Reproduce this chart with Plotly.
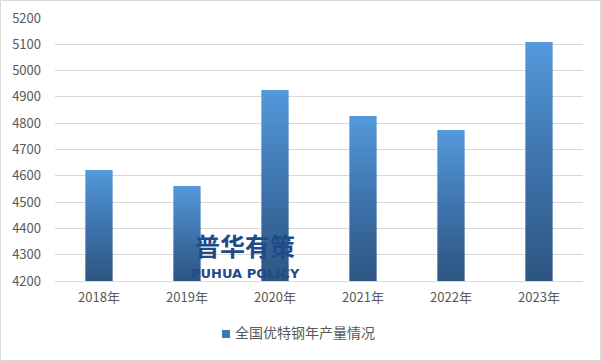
import plotly.graph_objects as go

categories = ["2018年", "2019年", "2020年", "2021年", "2022年", "2023年"]
values = [4622, 4561, 4926, 4827, 4774, 5109]
series_name = "全国优特钢年产量情况"
y_ticks = list(range(4200, 5201, 100))

BASE = 4200
HALF_W = 0.155
grad = dict(type="vertical", colorscale=[[0, "#2d5580"], [0.5, "#3e74ad"], [1, "#5499db"]])

W, H = 601, 361
ML, MR, MT, MB = 55, 18, 18, 80
pw = W - ML - MR
ph = H - MT - MB

fig = go.Figure()
for i, v in enumerate(values):
    fig.add_trace(go.Scatter(
        x=[i - HALF_W, i + HALF_W, i + HALF_W, i - HALF_W, i - HALF_W],
        y=[BASE, BASE, v, v, BASE],
        mode="lines", line=dict(width=0), fill="toself",
        fillgradient=grad, showlegend=False, hoverinfo="skip",
    ))

font_family = "Noto Sans CJK SC, Microsoft YaHei, sans-serif"

def px_x(p):
    return (p - ML) / pw

def px_y(p):
    return (H - MB - p) / ph

fig.update_layout(
    width=W, height=H,
    margin=dict(l=ML, r=MR, t=MT, b=MB, autoexpand=False),
    paper_bgcolor="white", plot_bgcolor="white",
    font=dict(family=font_family, size=13, color="#595959"),
    xaxis=dict(range=[-0.5, len(categories) - 0.5], tickmode="array",
               tickvals=list(range(len(categories))), ticktext=categories,
               showgrid=False, zeroline=False, showline=True,
               linecolor="#d9d9d9", linewidth=1, ticks="", fixedrange=True,
               ticklabelstandoff=4,
               tickfont=dict(size=13, color="#595959")),
    yaxis=dict(range=[4200, 5200], tickvals=y_ticks, showgrid=True,
               gridcolor="#d9d9d9", gridwidth=1, zeroline=False,
               showline=False, ticks="", ticklabelstandoff=13,
               tickfont=dict(size=13, color="#595959")),
    showlegend=False,
    annotations=[
        dict(text="<b>普华有策</b>", x=px_x(245), y=px_y(265), xref="paper",
             yref="paper", showarrow=False,
             font=dict(size=25, color="#1f4b8a", family=font_family)),
        dict(text="<b>PUHUA POLICY</b>", x=px_x(245), y=px_y(283),
             xref="paper", yref="paper", showarrow=False,
             font=dict(size=13, color="#1f4b8a",
                       family="DejaVu Sans, sans-serif")),
        dict(text=series_name, x=px_x(233), y=px_y(344), xref="paper",
             yref="paper", xanchor="left", showarrow=False,
             font=dict(size=14, color="#595959", family=font_family)),
    ],
)
# legend key square
fig.add_shape(type="rect", xref="paper", yref="paper",
              x0=px_x(222), x1=px_x(230), y0=px_y(338), y1=px_y(330),
              line=dict(width=0), fillcolor="#3f77b2")
# outer chart border
fig.add_shape(type="rect", xref="paper", yref="paper",
              x0=px_x(0.5), x1=px_x(W - 0.5), y0=px_y(H - 0.5), y1=px_y(0.5),
              line=dict(color="#d9d9d9", width=1), layer="below")

fig.write_html("out.html")
